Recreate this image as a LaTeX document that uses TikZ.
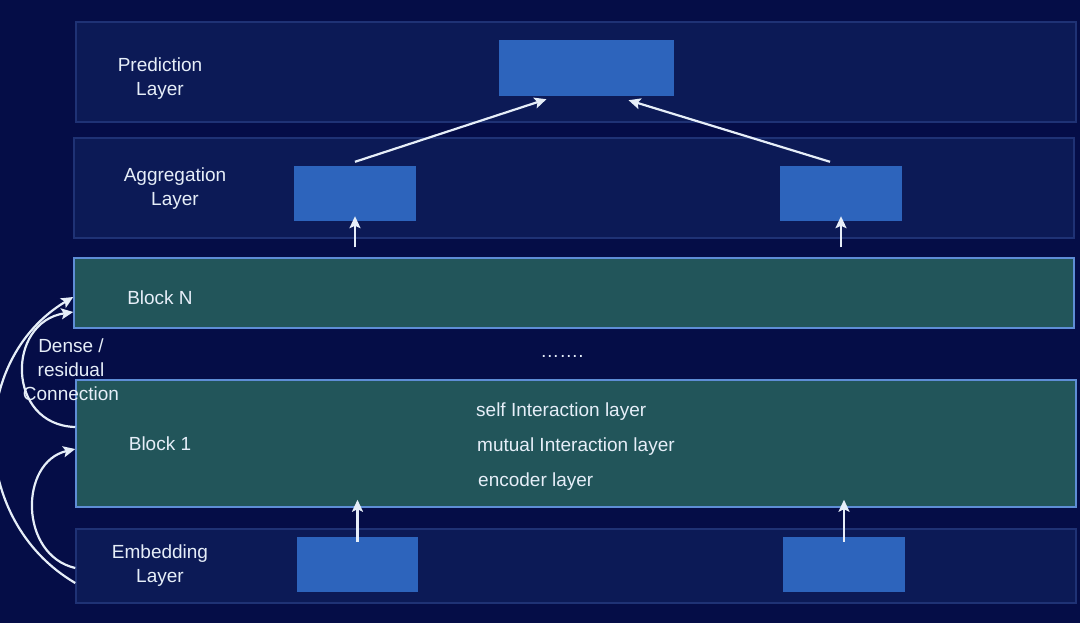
\documentclass[tikz,border=0pt]{standalone}
\usepackage{fontspec}
\setmainfont{Liberation Sans}
\usetikzlibrary{arrows.meta}
\definecolor{bgc}{HTML}{050D47}
\definecolor{panelfill}{HTML}{0C1A56}
\definecolor{panelline}{HTML}{1F3275}
\definecolor{tealfill}{HTML}{22555A}
\definecolor{tealline}{HTML}{5E8DD6}
\definecolor{boxblue}{HTML}{2D64BC}
\definecolor{txt}{HTML}{E6EEF8}
\begin{document}
\begin{tikzpicture}[x=1pt,y=-1pt,
  panel/.style={draw=panelline,line width=1.5pt,fill=panelfill,minimum width=1000pt,inner sep=0pt},
  blockbox/.style={draw=tealline,line width=1.5pt,fill=tealfill,minimum width=1000pt,inner sep=0pt},
  bluebox/.style={fill=boxblue,inner sep=0pt,minimum height=55pt},
  lbl/.style={text=txt,font=\fontsize{19}{24}\selectfont,align=center,inner sep=0pt},
  arr/.style={draw=txt,line width=2.2pt,-{Stealth[length=12pt,width=11pt,inset=2.5pt]}}
]
\fill[bgc] (0,0) rectangle (1080,623);
\useasboundingbox (0,0) rectangle (1080,623);

% layer panels
\node[panel,minimum height=100pt] (predp) at (576,72) {};
\node[panel,minimum height=100pt] (aggp) at (574,188) {};
\node[blockbox,minimum height=70pt] (blockN) at (574,293) {};
\node[blockbox,minimum height=127pt] (block1) at (576,443.5) {};
\node[panel,minimum height=74pt] (emb) at (576,566) {};

% inner blue boxes
\node[bluebox,minimum width=175pt,minimum height=56pt] (pred) at (586.5,68) {};
\node[bluebox,minimum width=122pt] (aggL) at (355,193.5) {};
\node[bluebox,minimum width=122pt] (aggR) at (841,193.5) {};
\node[bluebox,minimum width=121pt] (embL) at (357.5,564.5) {};
\node[bluebox,minimum width=122pt] (embR) at (844,564.5) {};

% labels
\node[lbl] (tpred) at (160,79) {Prediction\\Layer};
\node[lbl] (tagg) at (175,189) {Aggregation\\Layer};
\node[lbl] (tblockN) at (160,298) {Block N};
\node[lbl] (tblock1) at (160,444) {Block 1};
\node[lbl] (temb) at (160,566) {Embedding\\Layer};
\node[lbl,anchor=base west] (tself) at (476,416) {self Interaction layer};
\node[lbl,anchor=base west] (tmut) at (477,451) {mutual Interaction layer};
\node[lbl,anchor=base west] (tenc) at (478,486) {encoder layer};
\node[lbl] (tdots) at (562,356) {…….};

% vertical arrows
\draw[arr] ([yshift=-5pt]embL.north) -- ([yshift=8pt]block1.south -| embL.north);
\draw[arr] ([yshift=-5pt]embR.north) -- ([yshift=8pt]block1.south -| embR.north);
\draw[arr] ([yshift=10pt]blockN.north -| aggL.south) -- ([yshift=5pt]aggL.south);
\draw[arr] ([yshift=10pt]blockN.north -| aggR.south) -- ([yshift=5pt]aggR.south);

% to prediction
\draw[arr] ([yshift=4pt]aggL.north) -- ([shift={(-40pt,-3pt)}]pred.south);
\draw[arr] ([shift={(-11pt,4pt)}]aggR.north) -- ([shift={(42pt,-4pt)}]pred.south);

% dense / residual connections
\draw[arr] ([yshift=-17pt]emb.west) .. controls (-32,520) and (-32,360) .. ([yshift=-4pt]blockN.west);
\draw[arr] ([yshift=-2pt]emb.west) .. controls (19,555) and (19,462) .. ([yshift=-5.5pt]block1.west);
\draw[arr] ([yshift=16.5pt]block1.west) .. controls (6,425) and (6,322) .. ([yshift=-19pt]blockN.west);

\node[lbl] (tdense) at (71,370) {Dense /\\residual\\Connection};
\end{tikzpicture}
\end{document}
